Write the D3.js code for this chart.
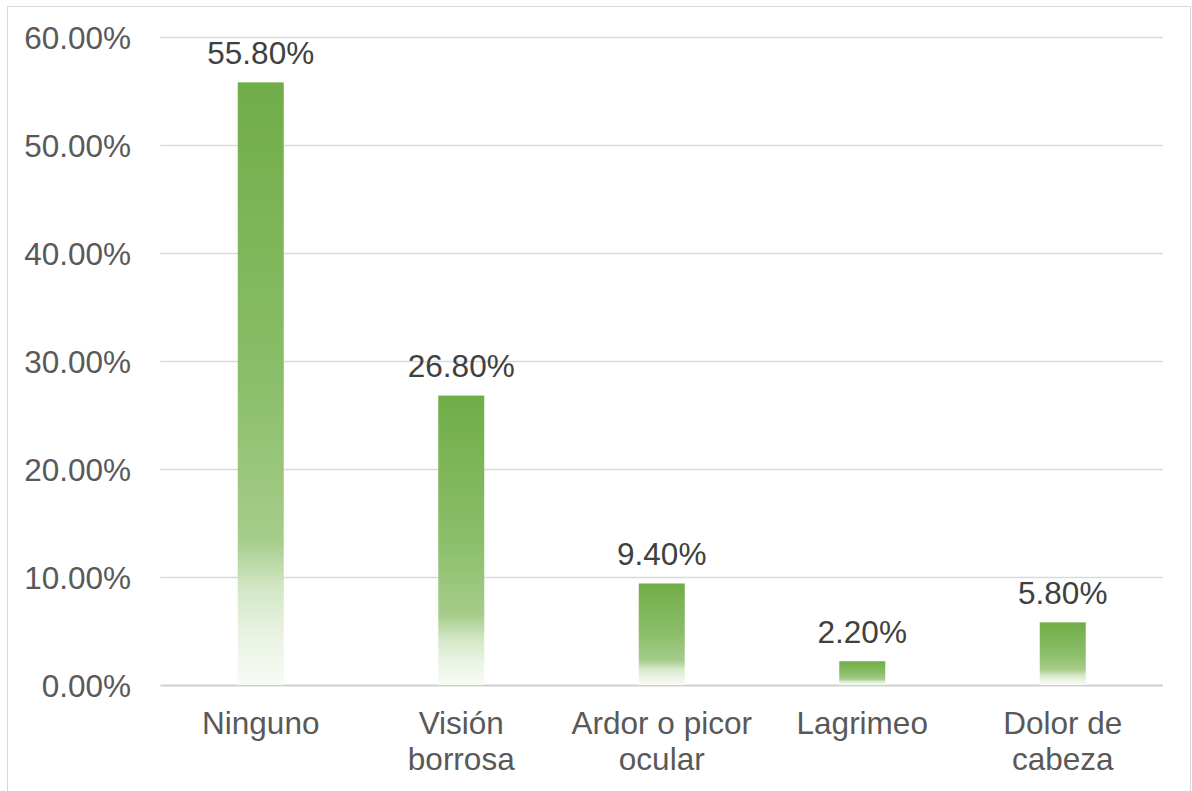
<!DOCTYPE html>
<html>
<head>
<meta charset="utf-8">
<script src="https://cdn.jsdelivr.net/npm/d3@7"></script>
<style>
  html, body { margin: 0; padding: 0; background: #fff; }
  svg { display: block; }
</style>
</head>
<body>
<svg id="chart" width="1192" height="791"></svg>
<script>
const categories = ["Ninguno", "Visión borrosa", "Ardor o picor ocular", "Lagrimeo", "Dolor de cabeza"];
const categoryLines = [["Ninguno"], ["Visión", "borrosa"], ["Ardor o picor", "ocular"], ["Lagrimeo"], ["Dolor de", "cabeza"]];
const values = [55.8, 26.8, 9.4, 2.2, 5.8];
const tickValues = [0, 10, 20, 30, 40, 50, 60];

(function () {
const svg = d3.select("#chart");
const font = "'Liberation Sans', Arial, sans-serif";

// chart border
svg.append("rect")
  .attr("x", 7.5).attr("y", 6.5)
  .attr("width", 1183).attr("height", 800)
  .attr("fill", "#fff").attr("stroke", "#D9D9D9").attr("stroke-width", 1);

const pLeft = 160.5, pRight = 1163, pTop = 37, pBottom = 685;

const x = d3.scaleBand().domain(categories).range([pLeft, pRight]).padding(0);
const y = d3.scaleLinear().domain([0, 60]).range([pBottom, pTop]);

// gradient
const defs = svg.append("defs");
const grad = defs.append("linearGradient")
  .attr("id", "barGrad").attr("x1", 0).attr("y1", 0).attr("x2", 0).attr("y2", 1);
[[0, "#70AD47"], [0.5, "#8BBE6A"], [0.76, "#A6CD8B"], [0.84, "#D3E7C6"], [0.92, "#EAF3E4"], [1, "#F7FBF5"]]
  .forEach(([o, c]) => grad.append("stop").attr("offset", o).attr("stop-color", c));

// gridlines
const grid = svg.append("g");
grid.selectAll("line")
  .data(tickValues)
  .join("line")
  .attr("x1", pLeft).attr("x2", pRight)
  .attr("y1", d => Math.round(y(d)) + 0.5).attr("y2", d => Math.round(y(d)) + 0.5)
  .attr("stroke", d => d === 0 ? "#D0D0D0" : "#D9D9D9")
  .attr("stroke-width", d => d === 0 ? 2 : 1.5);

// y axis labels
const yAxis = d3.axisLeft(y).tickValues(tickValues)
  .tickFormat(d => d.toFixed(2) + "%").tickSize(0).tickPadding(0);
const ya = svg.append("g").attr("transform", `translate(131,0)`).call(yAxis);
ya.select(".domain").remove();
ya.selectAll("text")
  .attr("font-family", font).attr("font-size", 31.5).attr("fill", "#595959")
  .attr("dy", "0.35em");

// bars
const barW = 46;
svg.append("g").selectAll("rect")
  .data(values)
  .join("rect")
  .attr("x", (d, i) => x(categories[i]) + x.bandwidth() / 2 - barW / 2)
  .attr("width", barW)
  .attr("y", d => y(d))
  .attr("height", d => y(0) - y(d))
  .attr("fill", "url(#barGrad)");

// data labels
svg.append("g").selectAll("text")
  .data(values)
  .join("text")
  .attr("x", (d, i) => x(categories[i]) + x.bandwidth() / 2)
  .attr("y", d => y(d) - 18.5)
  .attr("text-anchor", "middle")
  .attr("font-family", font).attr("font-size", 31.5).attr("fill", "#404040")
  .text(d => d.toFixed(2) + "%");

// x axis labels
const xl = svg.append("g").selectAll("text")
  .data(categories)
  .join("text")
  .attr("x", d => x(d) + x.bandwidth() / 2)
  .attr("y", 734)
  .attr("text-anchor", "middle")
  .attr("font-family", font).attr("font-size", 31.5).attr("fill", "#595959");
xl.each(function (d, i) {
  const t = d3.select(this);
  categoryLines[i].forEach((ln, j) => {
    t.append("tspan")
      .attr("x", x(d) + x.bandwidth() / 2)
      .attr("dy", j === 0 ? 0 : 36)
      .text(ln);
  });
});
})();
</script>
</body>
</html>
